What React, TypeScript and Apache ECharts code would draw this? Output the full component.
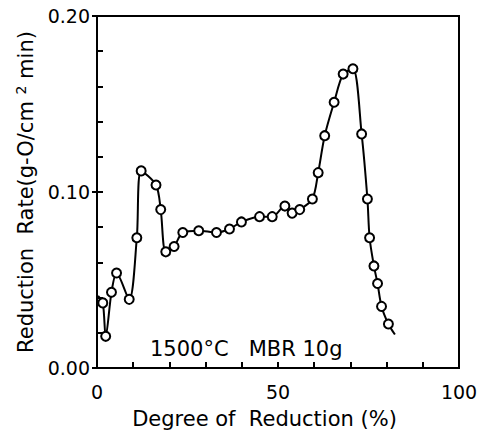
import React, { useEffect, useRef } from "react";
import * as echarts from "echarts";

// Degree of reduction (%) and reduction rate (g-O/cm² min) of the measured points
const degree = [
  1.6, 2.4, 4.0, 5.4, 8.9, 11.0, 12.2, 16.3, 17.6, 19.0, 21.3, 23.7, 28.1, 33.0,
  36.6, 39.9, 44.9, 48.4, 51.9, 53.9, 56.0, 59.5, 61.1, 62.9, 65.5, 68.0, 70.7,
  73.1, 74.7, 75.3, 76.5, 77.5, 78.6, 80.5,
];
const rate = [
  0.037, 0.018, 0.043, 0.054, 0.039, 0.074, 0.112, 0.104, 0.09, 0.066, 0.069,
  0.077, 0.078, 0.077, 0.079, 0.083, 0.086, 0.086, 0.092, 0.088, 0.09, 0.096,
  0.111, 0.132, 0.151, 0.167, 0.17, 0.133, 0.096, 0.074, 0.058, 0.048, 0.035,
  0.025,
];
// Where the fitted curve starts and ends beyond the first and last points
const curveStart = [0.3, 0.041];
const curveEnd = [82.3, 0.019];

const xTickLabels = [0, 50, 100];
const yTickLabels = [0, 0.1, 0.2];
const noteText = "1500°C   MBR 10g";

const FONT = "DejaVu Sans";

export default function App() {
  const ref = useRef<HTMLDivElement>(null);

  useEffect(() => {
    if (!ref.current) return;
    document.body.style.margin = "0";
    const chart = echarts.init(ref.current, undefined, { renderer: "svg" });

    const points = degree.map((d, i) => [d, rate[i]]);
    const curveData: any[] = [
      { value: curveStart, symbol: "none" },
      ...points,
      { value: curveEnd, symbol: "none" },
    ];

    chart.setOption({
      animation: false,
      backgroundColor: "#fff",
      grid: {
        left: 97,
        right: 28,
        top: 16,
        bottom: 66,
        show: true,
        borderColor: "#000",
        borderWidth: 2,
      },
      xAxis: {
        type: "value",
        min: 0,
        max: 100,
        interval: 10,
        name: "Degree of  Reduction (%)",
        nameLocation: "middle",
        nameGap: 40,
        nameTextStyle: {
          fontFamily: FONT,
          fontSize: 21,
          color: "#000",
          padding: [0, 27, 0, 0],
        },
        axisLine: { lineStyle: { color: "#000", width: 2 } },
        axisTick: { inside: true, length: 6, lineStyle: { color: "#000", width: 2 } },
        axisLabel: {
          margin: 14,
          fontFamily: FONT,
          fontSize: 19,
          color: "#000",
          formatter: (v: number) => (xTickLabels.includes(v) ? String(v) : ""),
        },
        splitLine: { show: false },
      },
      yAxis: [
        {
          type: "value",
          min: 0,
          max: 0.2,
          interval: 0.1,
          name: "{t|Reduction  Rate(g-O/cm }{s|2}{t| min)}",
          nameLocation: "middle",
          nameRotate: 90,
          nameGap: 53,
          nameTextStyle: {
            fontFamily: FONT,
            fontSize: 21,
            color: "#000",
            rich: {
              t: { fontFamily: FONT, fontSize: 21, color: "#000" },
              s: { fontFamily: FONT, fontSize: 14, color: "#000", padding: [0, 0, 10, 0] },
            },
          },
          axisLine: { lineStyle: { color: "#000", width: 2 } },
          axisTick: { inside: false, length: 5, lineStyle: { color: "#000", width: 2 } },
          axisLabel: {
            margin: 7,
            fontFamily: FONT,
            fontSize: 19,
            color: "#000",
            formatter: (v: number) =>
              yTickLabels.some((t) => Math.abs(t - v) < 1e-9) ? v.toFixed(2) : "",
          },
          splitLine: { show: false },
        },
        {
          // inner minor ticks every 0.02
          type: "value",
          position: "left",
          min: 0,
          max: 0.2,
          interval: 0.02,
          axisLine: { show: false },
          axisTick: { inside: true, length: 6, lineStyle: { color: "#000", width: 2 } },
          axisLabel: { show: false },
          splitLine: { show: false },
        },
      ],
      graphic: [
        {
          type: "text",
          left: 150,
          top: 338,
          style: {
            text: noteText,
            font: `21px "${FONT}"`,
            fill: "#000",
          },
        },
      ],
      series: [
        {
          type: "line",
          data: curveData,
          smooth: 0.3,
          symbol: "circle",
          symbolSize: 9,
          showAllSymbol: true,
          lineStyle: { color: "#000", width: 2 },
          itemStyle: { color: "#fff", borderColor: "#000", borderWidth: 2 },
          z: 3,
        },
      ],
    });

    return () => chart.dispose();
  }, []);

  return <div ref={ref} style={{ width: 487, height: 434 }} />;
}
